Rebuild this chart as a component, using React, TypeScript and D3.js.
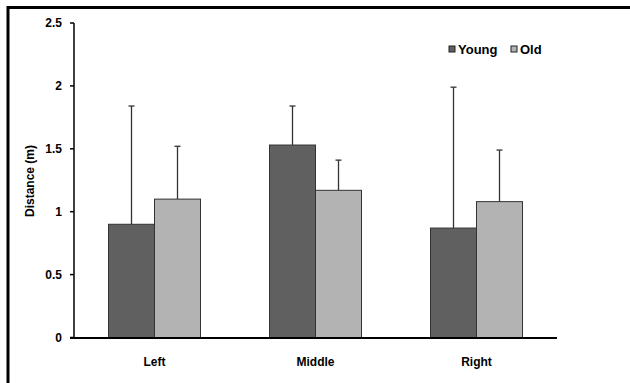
import React from "react";
import * as d3 from "d3";

const categories = ["Left", "Middle", "Right"];
const seriesNames = ["Young", "Old"];
const youngValues = [0.9, 1.53, 0.87];
const oldValues = [1.1, 1.17, 1.08];
const youngErrTop = [1.84, 1.84, 1.99];
const oldErrTop = [1.52, 1.41, 1.49];
const yTicks = [0, 0.5, 1, 1.5, 2, 2.5];
const yTickLabels = ["0", "0.5", "1", "1.5", "2", "2.5"];
const colors = ["#606060", "#b3b3b3"];

export default function App() {
  const W = 630, H = 383;
  const x0 = d3.scaleBand().domain(categories).range([74, 557]).paddingInner(0).paddingOuter(0);
  const groupW = 92;
  const x1 = d3.scaleBand().domain(seriesNames).range([0, groupW]);
  const y = d3.scaleLinear().domain([0, 2.5]).range([337.5, 23]);
  const font = "Arial, 'Liberation Sans', sans-serif";
  const values = [youngValues, oldValues];
  const errs = [youngErrTop, oldErrTop];
  return (
    <div style={{ position: "absolute", left: 0, top: 0 }}>
      <svg width={W} height={H} style={{ display: "block", background: "#fff" }}>
        {/* frame */}
        <line x1={7} x2={630} y1={7.5} y2={7.5} stroke="#000" strokeWidth={3} />
        <line x1={8} x2={8} y1={6} y2={383} stroke="#000" strokeWidth={3} />
        {/* bars */}
        {categories.map((c, i) => {
          const gx = (x0(c) as number) + (x0.bandwidth() - groupW) / 2;
          return seriesNames.map((s, j) => {
            const bx = gx + (x1(s) as number);
            const v = values[j][i];
            const cx = bx + x1.bandwidth() / 2;
            return (
              <g key={c + s}>
                <line x1={cx} x2={cx} y1={y(v)} y2={y(errs[j][i])} stroke="#333" strokeWidth={1.3} />
                <line x1={cx - 3} x2={cx + 3} y1={y(errs[j][i])} y2={y(errs[j][i])} stroke="#333" strokeWidth={1.3} />
                <rect x={bx} y={y(v)} width={x1.bandwidth()} height={y(0) - y(v)} fill={colors[j]} stroke="#333" strokeWidth={1} />
              </g>
            );
          });
        })}
        {/* y axis */}
        <line x1={74} x2={74} y1={y(2.5)} y2={y(0)} stroke="#000" strokeWidth={1.5} />
        {yTicks.map((t, i) => (
          <g key={t}>
            <line x1={70} x2={74} y1={y(t)} y2={y(t)} stroke="#000" strokeWidth={1.5} />
            <text x={62} y={y(t)} dy="0.35em" textAnchor="end" fontFamily={font} fontWeight="bold" fontSize={12} fill="#000">
              {yTickLabels[i]}
            </text>
          </g>
        ))}
        {/* x axis */}
        <line x1={70} x2={557} y1={y(0) + 0.5} y2={y(0) + 0.5} stroke="#000" strokeWidth={2} />
        {categories.map((c) => (
          <text key={c} x={(x0(c) as number) + x0.bandwidth() / 2} y={366} textAnchor="middle" fontFamily={font} fontWeight="bold" fontSize={12} fill="#000">
            {c}
          </text>
        ))}
        {/* y label */}
        <text transform={`translate(34,181) rotate(-90)`} textAnchor="middle" fontFamily={font} fontWeight="bold" fontSize={12} fill="#000">
          Distance (m)
        </text>
        {/* legend */}
        {seriesNames.map((s, j) => {
          const lx = [449, 511][j];
          return (
            <g key={s}>
              <rect x={lx} y={46} width={6} height={6} fill={colors[j]} stroke="#222" strokeWidth={1} />
              <text x={lx + 9} y={49} dy="0.35em" fontFamily={font} fontWeight="bold" fontSize={13} fill="#000">
                {s}
              </text>
            </g>
          );
        })}
      </svg>
    </div>
  );
}
